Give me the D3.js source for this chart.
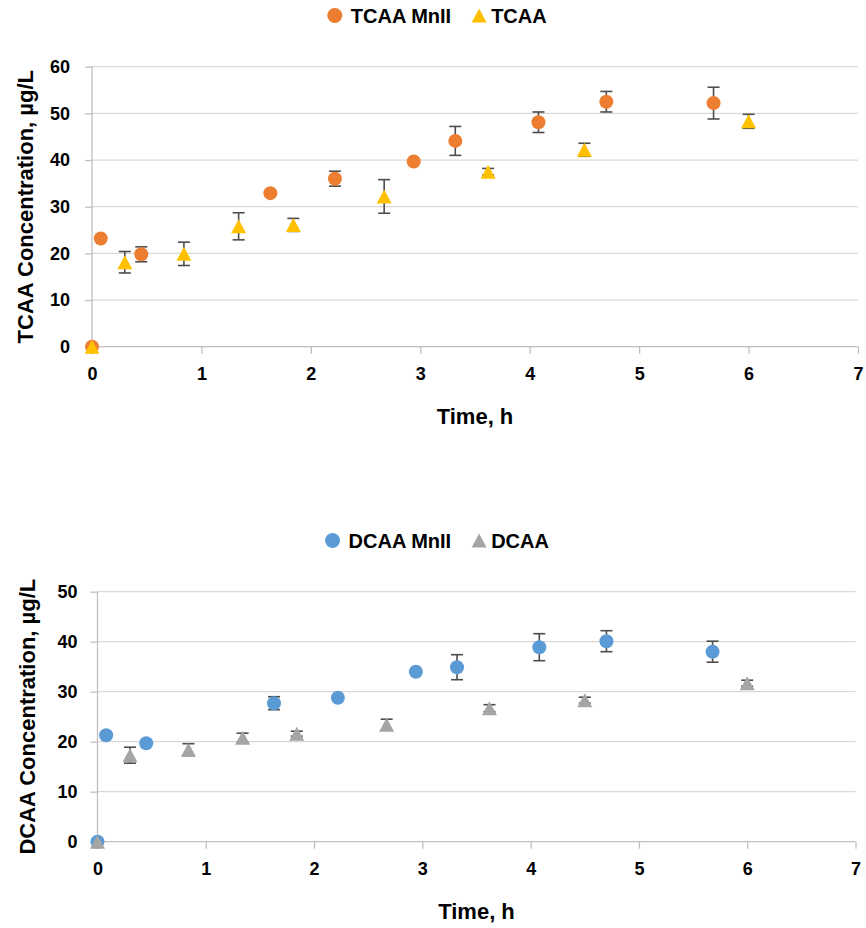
<!DOCTYPE html>
<html>
<head>
<meta charset="utf-8">
<script src="https://cdn.jsdelivr.net/npm/d3@7"></script>
<style>
  html, body { margin: 0; padding: 0; background: #ffffff; }
  svg text { font-family: "Liberation Sans", Arial, sans-serif; font-weight: bold; fill: #000; }
</style>
</head>
<body>
<svg id="chart" width="866" height="928"></svg>
<script>
// Sampling times (h)
const mnTimes   = [0, 0.08, 0.45, 1.63, 2.22, 2.94, 3.32, 4.08, 4.70, 5.68];
const ctrlTimes = [0, 0.30, 0.84, 1.34, 1.84, 2.67, 3.62, 4.50, 6.00];

// TCAA with Mn(II) and without
const tcaaMn      = [0, 23.2, 19.8, 32.9, 36.0, 39.7, 44.1, 48.1, 52.5, 52.2];
const tcaaMnErr   = [0, 0, 1.6, 0, 1.6, 0, 3.1, 2.2, 2.2, 3.4];
const tcaaCtrl    = [0, 18.1, 19.9, 25.8, 26.1, 32.2, 37.5, 42.2, 48.3];
const tcaaCtrlErr = [0, 2.3, 2.5, 2.9, 1.4, 3.6, 0.7, 1.4, 1.5];

// DCAA with Mn(II) and without
const dcaaMn      = [0, 21.3, 19.7, 27.7, 28.8, 34.0, 34.9, 38.9, 40.1, 38.0];
const dcaaMnErr   = [0, 0, 0, 1.3, 0, 0, 2.5, 2.7, 2.1, 2.1];
const dcaaCtrl    = [0, 17.3, 18.4, 20.8, 21.6, 23.4, 26.7, 28.3, 31.7];
const dcaaCtrlErr = [0, 1.6, 1.2, 0.9, 0.5, 1.1, 0.7, 0.6, 0.6];

// Axis ticks
const xTicks = [0, 1, 2, 3, 4, 5, 6, 7];
const tcaaTicks = [0, 10, 20, 30, 40, 50, 60];
const dcaaTicks = [0, 10, 20, 30, 40, 50];

const svg = d3.select("#chart");
const gridColor = "#d9d9d9";
const axisColor = "#bfbfbf";
const errColor = "#4d4d4d";

const triPath = "M0,-7L7.5,7L-7.5,7Z";

function drawPanel(p) {
  const x = d3.scaleLinear().domain([0, 7]).range([p.left, p.right]);
  const y = d3.scaleLinear().domain([0, p.yMax]).range([p.bottom, p.top]);
  const g = svg.append("g");

  // horizontal gridlines
  g.append("g").selectAll("line").data(p.yTicks.filter(d => d > 0)).join("line")
    .attr("x1", p.left).attr("x2", p.right)
    .attr("y1", d => y(d)).attr("y2", d => y(d))
    .attr("stroke", gridColor).attr("stroke-width", 1.3);

  // y axis
  const yAxis = g.append("g").attr("transform", `translate(${p.left},0)`)
    .call(d3.axisLeft(y).tickValues(p.yTicks).tickFormat(d3.format("d")).tickSize(7).tickPadding(p.yPad));
  yAxis.select(".domain").attr("stroke", axisColor).attr("stroke-width", 1.3)
    .attr("d", `M0,${p.bottom}V${p.top}`);
  yAxis.selectAll(".tick line").attr("stroke", axisColor).attr("stroke-width", 1.3);
  yAxis.selectAll(".tick text").style("font-size", "18px");

  // x axis
  const xAxis = g.append("g").attr("transform", `translate(0,${p.bottom})`)
    .call(d3.axisBottom(x).tickValues(xTicks).tickFormat(d3.format("d")).tickSize(7).tickPadding(14));
  xAxis.select(".domain").attr("stroke", axisColor).attr("stroke-width", 1.3)
    .attr("d", `M${p.left},0H${p.right}`);
  xAxis.selectAll(".tick line").attr("stroke", axisColor).attr("stroke-width", 1.3);
  xAxis.selectAll(".tick text").style("font-size", "18px");

  // axis titles
  g.append("text")
    .attr("x", (p.left + p.right) / 2).attr("y", p.bottom + 77)
    .attr("text-anchor", "middle").style("font-size", "22px")
    .text("Time, h");
  g.append("text")
    .attr("transform", `translate(${p.yTitleX},${(p.top + p.bottom) / 2}) rotate(-90)`)
    .attr("text-anchor", "middle").style("font-size", "22px")
    .text(p.yTitle);

  // error bars
  const bars = [];
  p.mn.forEach((v, i) => bars.push({ t: mnTimes[i], v, e: p.mnErr[i] }));
  p.ctrl.forEach((v, i) => bars.push({ t: ctrlTimes[i], v, e: p.ctrlErr[i] }));
  const eb = g.append("g").attr("stroke", errColor).attr("stroke-width", 1.6).attr("fill", "none");
  bars.filter(d => d.e > 0).forEach(d => {
    const cx = x(d.t), y1 = y(d.v + d.e), y2 = y(d.v - d.e);
    eb.append("line").attr("x1", cx).attr("x2", cx).attr("y1", y1).attr("y2", y2);
    eb.append("line").attr("x1", cx - 6).attr("x2", cx + 6).attr("y1", y1).attr("y2", y1);
    eb.append("line").attr("x1", cx - 6).attr("x2", cx + 6).attr("y1", y2).attr("y2", y2);
  });

  // circle series
  g.append("g").selectAll("circle").data(p.mn).join("circle")
    .attr("cx", (d, i) => x(mnTimes[i])).attr("cy", d => y(d))
    .attr("r", 7).attr("fill", p.mnColor);

  // triangle series
  g.append("g").selectAll("path").data(p.ctrl).join("path")
    .attr("d", triPath)
    .attr("transform", (d, i) => `translate(${x(ctrlTimes[i])},${y(d)})`)
    .attr("fill", p.ctrlColor);

  // legend
  const lg = g.append("g");
  lg.append("circle").attr("cx", 0).attr("cy", 0).attr("r", 7.5).attr("fill", p.mnColor);
  const t1 = lg.append("text").attr("x", 16).attr("y", 7).style("font-size", "20px").text(p.mnName);
  const w1 = t1.node().getComputedTextLength();
  const triX = 16 + w1 + 28;
  lg.append("path").attr("d", triPath).attr("transform", `translate(${triX},0)`).attr("fill", p.ctrlColor);
  const t2 = lg.append("text").attr("x", triX + 12).attr("y", 7).style("font-size", "20px").text(p.ctrlName);
  const total = triX + 12 + t2.node().getComputedTextLength() + 7.5;
  lg.attr("transform", `translate(${437 - total / 2 + 7.5},${p.legendY})`);
}

drawPanel({
  left: 92, right: 858, top: 66.7, bottom: 346.7, yMax: 60, yTicks: tcaaTicks, yPad: 15,
  yTitle: "TCAA Concentration, µg/L", yTitleX: 33, legendY: 15.5,
  mn: tcaaMn, mnErr: tcaaMnErr, ctrl: tcaaCtrl, ctrlErr: tcaaCtrlErr,
  mnColor: "#ed7d31", ctrlColor: "#ffc000", mnName: "TCAA MnII", ctrlName: "TCAA"
});

drawPanel({
  left: 97.5, right: 855.5, top: 591.7, bottom: 841.7, yMax: 50, yTicks: dcaaTicks, yPad: 13,
  yTitle: "DCAA Concentration, µg/L", yTitleX: 35, legendY: 540.5,
  mn: dcaaMn, mnErr: dcaaMnErr, ctrl: dcaaCtrl, ctrlErr: dcaaCtrlErr,
  mnColor: "#5b9bd5", ctrlColor: "#a5a5a5", mnName: "DCAA MnII", ctrlName: "DCAA"
});
</script>
</body>
</html>
